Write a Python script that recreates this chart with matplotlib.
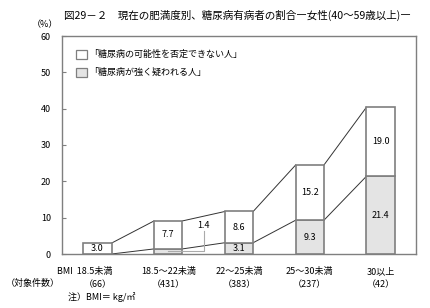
import matplotlib
matplotlib.use("Agg")
import matplotlib.pyplot as plt
from matplotlib.patches import Rectangle

plt.rcParams['font.family'] = ['Noto Sans CJK JP', 'DejaVu Sans']

categories = ["18.5未満", "18.5～22未満", "22～25未満", "25～30未満", "30以上"]
counts = [66, 431, 383, 237, 42]
strong = [0.0, 1.4, 3.1, 9.3, 21.4]      # 糖尿病が強く疑われる人
possible = [3.0, 7.7, 8.6, 15.2, 19.0]   # 糖尿病の可能性を否定できない人

title = "図29－２　現在の肥満度別、糖尿病有病者の割合―女性(40～59歳以上)―"
label_possible = "「糖尿病の可能性を否定できない人」"
label_strong = "「糖尿病が強く疑われる人」"

edge = "#7f7f7f"
fill = "#e4e4e4"
line_col = "#333333"

fig = plt.figure(figsize=(4.31, 3.08), dpi=100)
ax = fig.add_axes([62 / 431, 1 - 254 / 308, 354 / 431, 218 / 308])

x = list(range(len(categories)))
w = 0.4
totals = [s + p for s, p in zip(strong, possible)]

ax.bar(x, strong, width=w, color=fill, edgecolor=edge, linewidth=1.2, zorder=3)
ax.bar(x, possible, width=w, bottom=strong, color="white", edgecolor=edge,
       linewidth=1.2, zorder=3)

# connecting lines between bars
for i in range(len(x) - 1):
    ax.plot([x[i] + w / 2, x[i + 1] - w / 2], [totals[i], totals[i + 1]],
            color=line_col, lw=0.7, zorder=2)
    ax.plot([x[i] + w / 2, x[i + 1] - w / 2], [strong[i], strong[i + 1]],
            color=line_col, lw=0.7, zorder=2)

fs = 6.5
for i in x:
    ax.text(i, strong[i] + possible[i] / 2, "%.1f" % possible[i],
            ha="center", va="center", fontsize=fs, zorder=4)
    if strong[i] >= 2:
        ax.text(i, strong[i] / 2, "%.1f" % strong[i],
                ha="center", va="center", fontsize=fs, zorder=4)

# leader for the small value in the second bar
ax.plot([x[1], x[1] + 0.5, x[1] + 0.5], [strong[1] / 2, strong[1] / 2, 6.2],
        color="#aaaaaa", lw=0.8, zorder=4)
ax.text(x[1] + 0.5, 7.9, "%.1f" % strong[1], ha="center", va="center",
        fontsize=fs, zorder=4)

ax.set_xlim(-0.5, 4.5)
ax.set_ylim(0, 60)
ax.set_yticks(range(0, 61, 10))
ax.set_xticks([])
ax.tick_params(axis="y", direction="in", length=3, color=edge,
               labelsize=6.5, pad=8)
for sp in ax.spines.values():
    sp.set_color(edge)
    sp.set_linewidth(1.0)

# legend
ax.add_patch(Rectangle((-0.3, 53.6), 0.16, 2.6, facecolor="white",
                       edgecolor=edge, lw=0.9, zorder=5))
ax.add_patch(Rectangle((-0.3, 48.6), 0.16, 2.6, facecolor=fill,
                       edgecolor=edge, lw=0.9, zorder=5))
ax.text(-0.12, 54.9, label_possible, fontsize=6.5, va="center")
ax.text(-0.12, 49.9, label_strong, fontsize=6.5, va="center")

# category labels
for i, (c, n) in enumerate(zip(categories, counts)):
    lbl = c if i else "BMI  " + c
    ax.text(i if i else i - 0.18, -3.6, lbl, ha="center", va="top", fontsize=6.5)
    ax.text(i, -7.3, "（%d）" % n, ha="center", va="top", fontsize=6.5)

fig.text(237 / 431, 1 - 15 / 308, title, ha="center", va="center", fontsize=7.6)
fig.text(45 / 431, 1 - 25 / 308, "（%）", ha="center", va="center", fontsize=6.5)
fig.text(6 / 431, 1 - 283 / 308, "（対象件数）", ha="left", va="center", fontsize=6.5)
fig.text(68 / 431, 1 - 297 / 308, "注）BMI＝ kg/㎡", ha="left", va="center",
         fontsize=6.5)

fig.savefig("out.png", dpi=100)
